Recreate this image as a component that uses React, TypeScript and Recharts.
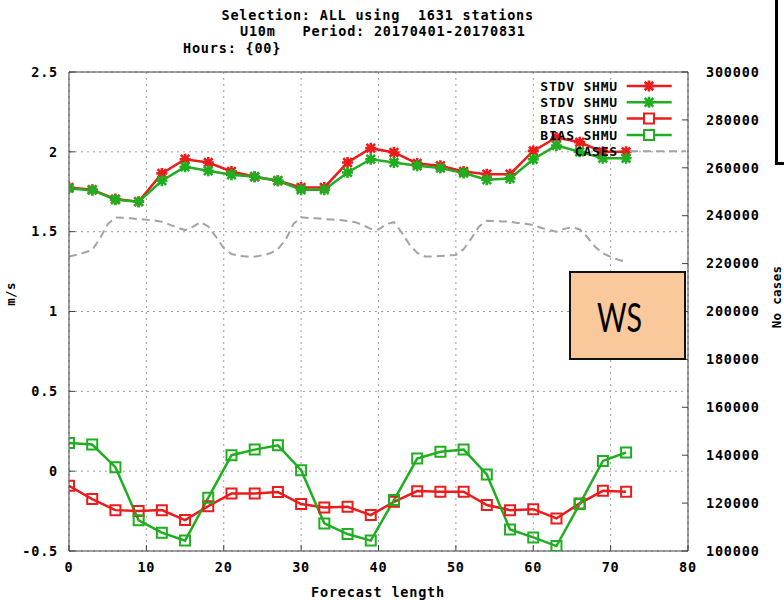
import React from 'react';
import { ComposedChart, Line, XAxis, YAxis, CartesianGrid, ReferenceLine, Legend } from 'recharts';

// ---- data ----
const forecastHours = [0, 3, 6, 9, 12, 15, 18, 21, 24, 27, 30, 33, 36, 39, 42, 45, 48, 51, 54, 57, 60, 63, 66, 69, 72];
const stdvRedValues = [1.777, 1.763, 1.704, 1.688, 1.865, 1.954, 1.933, 1.877, 1.844, 1.819, 1.777, 1.777, 1.933, 2.023, 1.996, 1.927, 1.913, 1.877, 1.86, 1.86, 2.006, 2.09, 2.06, 2.0, 2.0];
const stdvGreenValues = [1.771, 1.76, 1.7, 1.688, 1.819, 1.906, 1.881, 1.856, 1.844, 1.819, 1.763, 1.763, 1.871, 1.954, 1.933, 1.913, 1.898, 1.867, 1.825, 1.833, 1.954, 2.04, 2.0, 1.96, 1.96];
const biasRedValues = [-0.092, -0.175, -0.244, -0.25, -0.244, -0.306, -0.219, -0.14, -0.14, -0.131, -0.206, -0.227, -0.223, -0.275, -0.192, -0.125, -0.129, -0.129, -0.212, -0.244, -0.238, -0.296, -0.202, -0.123, -0.129];
const biasGreenValues = [0.177, 0.167, 0.025, -0.308, -0.385, -0.435, -0.167, 0.1, 0.135, 0.162, 0.006, -0.327, -0.394, -0.435, -0.181, 0.079, 0.121, 0.135, -0.021, -0.365, -0.415, -0.469, -0.206, 0.064, 0.117];

const caseHours = [
  0, 1, 2, 3, 4, 5, 6, 7, 8, 9, 10, 11, 12, 13, 14, 15, 16, 17, 18, 19, 20, 21, 22, 23,
  24, 25, 26, 27, 28, 29, 30, 31, 32, 33, 34, 35, 36, 37, 38, 39, 40, 41, 42, 43, 44, 45, 46, 47,
  48, 49, 50, 51, 52, 53, 54, 55, 56, 57, 58, 59, 60, 61, 62, 63, 64, 65, 66, 67, 68, 69, 70, 71, 72,
];
const casesValues = [
  222900, 223700, 224600, 225700, 230500, 236500, 239300, 239100, 238900, 238600, 238300, 238000,
  237500, 236300, 235000, 234000, 235300, 237300, 235500, 231200, 226500, 224000, 223200, 223000,
  222900, 223500, 224300, 226000, 230000, 236500, 239300, 239000, 238900, 238600, 238400, 238200,
  237800, 237300, 236000, 234500, 234200, 236500, 237300, 233000, 228000, 224500, 223000, 223000,
  223200, 223400, 223600, 226000, 230500, 235500, 237900, 237800, 237600, 237500, 237000, 236600,
  236100, 235000, 234000, 233300, 234500, 235200, 234300, 231000, 227000, 224300, 222800, 221600, 220800,
];

const xTicks = [0, 10, 20, 30, 40, 50, 60, 70, 80];
const leftTicks = [-0.5, 0, 0.5, 1, 1.5, 2, 2.5];
const rightTicks = [100000, 120000, 140000, 160000, 180000, 200000, 220000, 240000, 260000, 280000, 300000];

const titleLines = ['Selection: ALL using  1631 stations', 'U10m   Period: 20170401-20170831', 'Hours: {00}'];
const legendNames = ['STDV SHMU', 'STDV SHMU', 'BIAS SHMU', 'BIAS SHMU', 'CASES'];

// ---- table ----
type Row = { h: number; cases?: number; stdvRed?: number; stdvGreen?: number; biasRed?: number; biasGreen?: number };
const rows: Row[] = caseHours.map((h, i) => ({ h, cases: casesValues[i] }));
forecastHours.forEach((h, j) => {
  const r = rows.find((x) => x.h === h);
  if (r) {
    r.stdvRed = stdvRedValues[j];
    r.stdvGreen = stdvGreenValues[j];
    r.biasRed = biasRedValues[j];
    r.biasGreen = biasGreenValues[j];
  }
});

const RED = '#ec1c1c';
const GREEN = '#1fae1f';
const GRAY = '#a3a3a3';
const FONT = '"DejaVu Sans Mono", "Liberation Mono", monospace';
const tickStyle = { fill: '#000', fontSize: 13.5, fontFamily: FONT, fontWeight: 700, letterSpacing: 0.8 };

const starPath = (cx: number, cy: number, r: number) => {
  const d = r * 0.78;
  return `M${cx - r},${cy}H${cx + r}M${cx},${cy - r}V${cy + r}M${cx - d},${cy - d}L${cx + d},${cy + d}M${cx - d},${cy + d}L${cx + d},${cy - d}`;
};
const squarePath = (cx: number, cy: number, r: number) => `M${cx - r},${cy - r}H${cx + r}V${cy + r}H${cx - r}Z`;

const makeDot = (kind: 'star' | 'square', color: string) => (props: any) => {
  const { cx, cy, value, index } = props;
  if (cx == null || cy == null || value == null || Number.isNaN(cy)) return <g key={`${kind}${color}${index}`} />;
  if (kind === 'star') {
    return <path key={`${kind}${color}${index}`} d={starPath(cx, cy, 5.5)} stroke={color} strokeWidth={2.6} fill="none" />;
  }
  return <path key={`${kind}${color}${index}`} d={squarePath(cx, cy, 5)} stroke={color} strokeWidth={2} fill="none" />;
};

const legendStyles = [
  { color: RED, kind: 'star' },
  { color: GREEN, kind: 'star' },
  { color: RED, kind: 'square' },
  { color: GREEN, kind: 'square' },
  { color: GRAY, kind: 'dash' },
];

const renderLegend = () => (
  <svg width={170} height={90} style={{ overflow: 'visible', display: 'block' }}>
    {legendNames.map((name, i) => {
      const y = 10 + i * 16.3;
      const st = legendStyles[i];
      return (
        <g key={i}>
          <text x={88} y={y + 5} textAnchor="end" style={{ ...tickStyle, fontSize: 13 } as any} fill="#000">
            {name}
          </text>
          {st.kind === 'dash' ? (
            <line x1={100} x2={156} y1={y} y2={y} stroke={GRAY} strokeWidth={2} strokeDasharray="8 5" />
          ) : (
            <g>
              <line x1={96.7} x2={141.7} y1={y} y2={y} stroke={st.color} strokeWidth={2.5} />
              <path
                d={st.kind === 'star' ? starPath(119, y, 5.5) : squarePath(119, y, 5)}
                stroke={st.color}
                strokeWidth={st.kind === 'star' ? 2.6 : 2}
                fill={st.kind === 'star' ? 'none' : '#fff'}
              />
            </g>
          )}
        </g>
      );
    })}
  </svg>
);

export default function App() {
  return (
    <div style={{ position: 'absolute', left: 0, top: 0, width: 784, height: 600, background: '#fff', overflow: 'hidden' }}>
      <ComposedChart width={784} height={600} data={rows} margin={{ top: 72, right: 0, bottom: 0, left: 0 }}>
        <CartesianGrid yAxisId="left" stroke="#9c9c9c" strokeDasharray="2 4" />
        <XAxis
          dataKey="h"
          type="number"
          domain={[0, 80]}
          ticks={xTicks}
          interval={0}
          height={49}
          tickSize={-6}
          tickMargin={17}
          axisLine={{ stroke: '#404040' }}
          tickLine={{ stroke: '#404040' }}
          tick={tickStyle}
          allowDataOverflow
        />
        <YAxis
          yAxisId="left"
          domain={[-0.5, 2.5]}
          ticks={leftTicks}
          interval={0}
          width={69}
          tickSize={-6}
          tickMargin={17}
          axisLine={{ stroke: '#404040' }}
          tickLine={{ stroke: '#404040' }}
          tick={tickStyle}
          allowDataOverflow
        />
        <YAxis
          yAxisId="right"
          orientation="right"
          domain={[100000, 300000]}
          ticks={rightTicks}
          interval={0}
          width={96}
          tickSize={-6}
          tickMargin={24}
          axisLine={{ stroke: '#404040' }}
          tickLine={{ stroke: '#404040' }}
          tick={{ ...tickStyle, textAnchor: 'start' } as any}
          allowDataOverflow
        />
        <ReferenceLine yAxisId="left" y={2.5} stroke="#404040" />
        <Line yAxisId="left" dataKey="stdvRed" stroke={RED} strokeWidth={2.5} dot={makeDot('star', RED)} activeDot={false} connectNulls isAnimationActive={false} />
        <Line yAxisId="left" dataKey="stdvGreen" stroke={GREEN} strokeWidth={2.5} dot={makeDot('star', GREEN)} activeDot={false} connectNulls isAnimationActive={false} />
        <Line yAxisId="left" dataKey="biasRed" stroke={RED} strokeWidth={2.5} dot={makeDot('square', RED)} activeDot={false} connectNulls isAnimationActive={false} />
        <Line yAxisId="left" dataKey="biasGreen" stroke={GREEN} strokeWidth={2.5} dot={makeDot('square', GREEN)} activeDot={false} connectNulls isAnimationActive={false} />
        <Line yAxisId="right" dataKey="cases" stroke={GRAY} strokeWidth={2} strokeDasharray="8 5" dot={false} activeDot={false} connectNulls isAnimationActive={false} />
        <Legend
          layout="vertical"
          align="center"
          verticalAlign="middle"
          content={renderLegend}
          wrapperStyle={{ left: 530, top: 76, width: 170, height: 90 }}
        />
      </ComposedChart>

      <svg width={784} height={600} style={{ position: 'absolute', left: 0, top: 0, pointerEvents: 'none' }}>
        {titleLines.map((t, i) => (
          <text
            key={i}
            x={[221.5, 240, 183][i]}
            y={[19.5, 36, 52.7][i]}
            style={{ ...tickStyle, whiteSpace: 'pre' } as any}
            fill="#000"
          >
            {t}
          </text>
        ))}
        <text
          transform="translate(15,294) rotate(-90)"
          textAnchor="middle"
          style={{ ...tickStyle, fontSize: 12.5, letterSpacing: 0.3 } as any}
          fill="#000"
        >
          m/s
        </text>
        <text
          transform="translate(781,297) rotate(-90)"
          textAnchor="middle"
          style={{ ...tickStyle, fontSize: 12.5, letterSpacing: 0.3, whiteSpace: 'pre' } as any}
          fill="#000"
        >
          No cases
        </text>
        <text x={378} y={597} textAnchor="middle" style={tickStyle as any} fill="#000">
          Forecast length
        </text>
      </svg>

      <div
        style={{
          position: 'absolute',
          left: 569,
          top: 271,
          width: 117,
          height: 89,
          boxSizing: 'border-box',
          border: '2px solid #111',
          background: '#f9c89b',
        }}
      >
        <svg width={113} height={85} style={{ display: 'block' }}>
          <text x={26} y={59} textLength={45} lengthAdjust="spacingAndGlyphs" fontFamily="Lato, 'Open Sans', sans-serif" fontSize={41} fill="#000">
            WS
          </text>
        </svg>
      </div>
      <div
        style={{
          position: 'absolute',
          left: 774.5,
          top: -10,
          width: 40,
          height: 174.5,
          boxSizing: 'border-box',
          border: '3px solid #000',
        }}
      />
    </div>
  );
}
